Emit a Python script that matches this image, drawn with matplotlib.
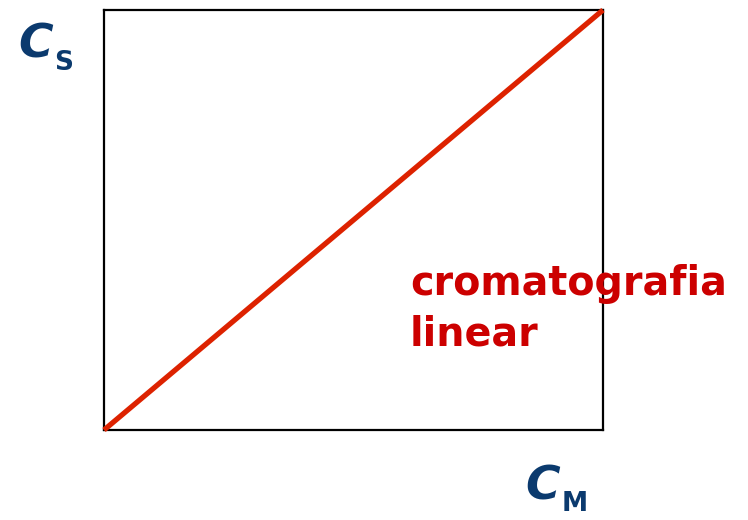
from matplotlib import pyplot as plt

# linear isotherm: stationary vs mobile phase concentration
c_m = [0.0, 1.0]
c_s = [0.0, 1.0]
label_text = 'cromatografia\nlinear'

blue = '#0b3a6e'
red_line = '#dd2200'
red_text = '#cc0000'

fig = plt.figure(figsize=(7.48, 5.2), dpi=100)
ax = fig.add_axes([104 / 748, 1 - 430 / 520, (603 - 104) / 748, (430 - 10) / 520])
ax.plot(c_m, c_s, color=red_line, lw=3.8, solid_capstyle='butt', clip_on=False, zorder=3)
ax.set_xlim(0, 1)
ax.set_ylim(0, 1)
ax.set_xticks([])
ax.set_yticks([])
for sp in ax.spines.values():
    sp.set_linewidth(1.6)
    sp.set_color('black')

# axis labels as free text
fig.text(18 / 748, 1 - 58 / 520, 'C', color=blue, fontsize=34, fontweight='bold',
         fontstyle='italic', ha='left', va='baseline')
fig.text(54 / 748, 1 - 70 / 520, 'S', color=blue, fontsize=19, fontweight='bold',
         ha='left', va='baseline')
fig.text(525 / 748, 1 - 500 / 520, 'C', color=blue, fontsize=34, fontweight='bold',
         fontstyle='italic', ha='left', va='baseline')
fig.text(562 / 748, 1 - 511 / 520, 'M', color=blue, fontsize=19, fontweight='bold',
         ha='left', va='baseline')

fig.text(410 / 748, 1 - 309 / 520, label_text, color=red_text, fontsize=28.5,
         fontweight='bold', ha='left', va='center', linespacing=1.35)

fig.savefig('out.png', dpi=100)
